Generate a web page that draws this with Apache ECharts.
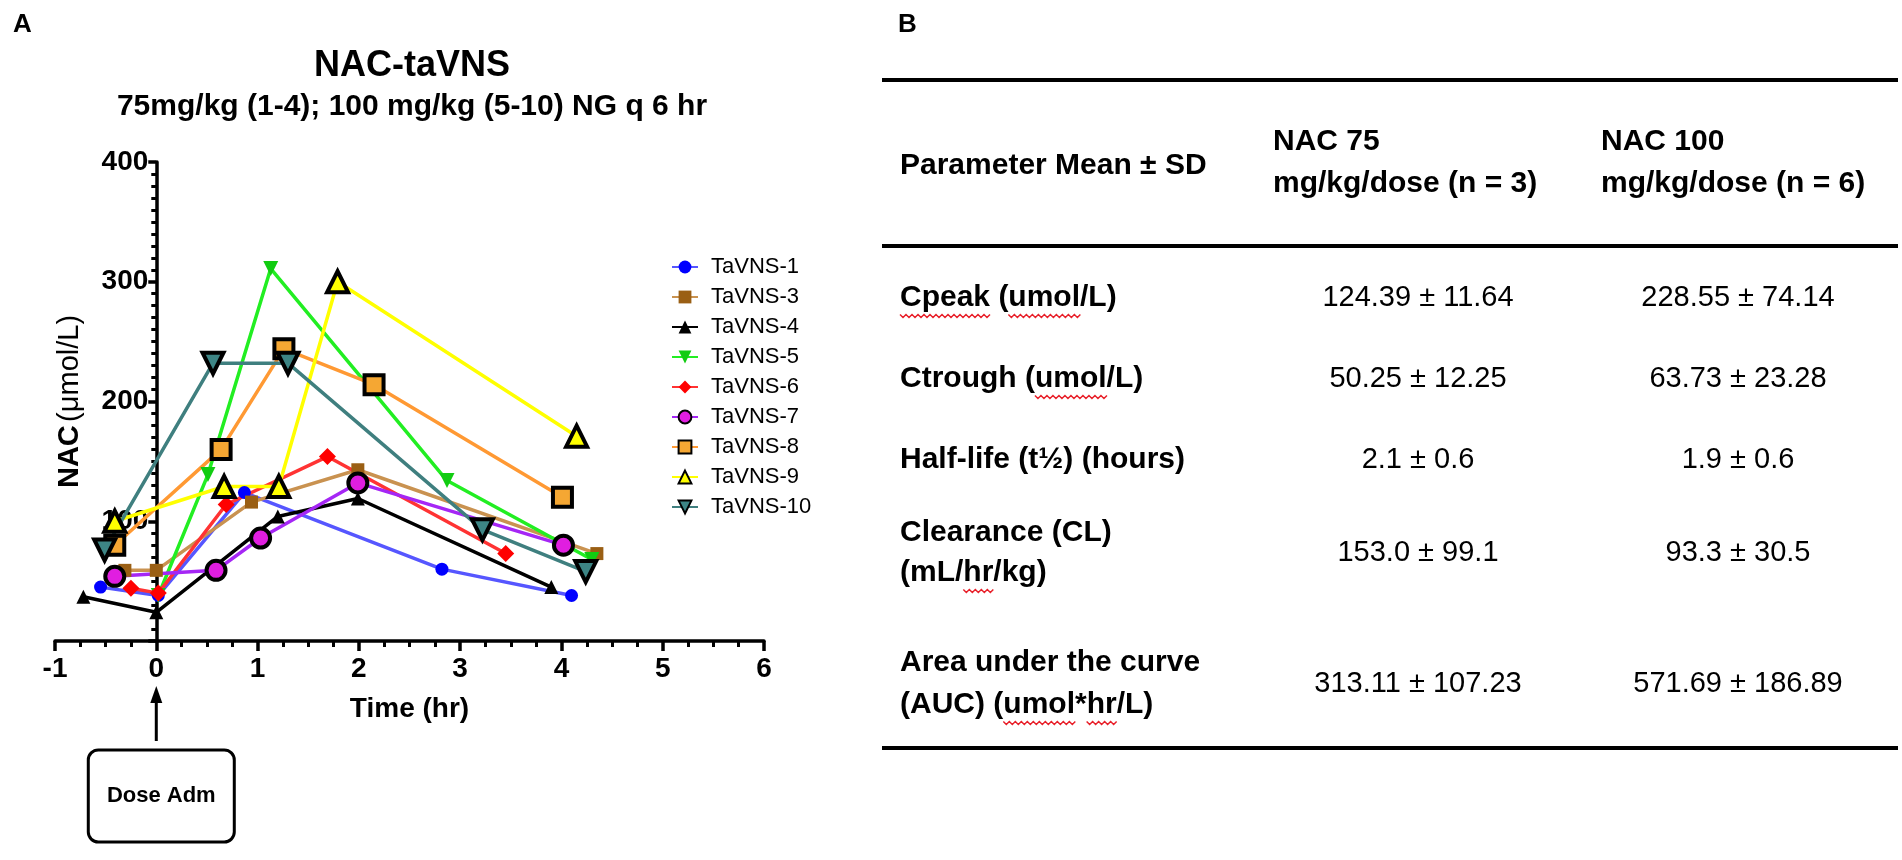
<!DOCTYPE html>
<html>
<head>
<meta charset="utf-8">
<title>NAC-taVNS</title>
<script src="https://cdn.jsdelivr.net/npm/echarts@6/dist/echarts.min.js"></script>
<style>
  html, body { margin: 0; padding: 0; background: #fff; }
  #main { width: 1902px; height: 860px; }
</style>
</head>
<body>
<div id="main"></div>
<script>
'use strict';

// panel A: NAC (umol/L) against time from dose (hr), [time, value]
const tavns1 = [[-0.55, 45], [0.02, 38], [0.87, 124], [2.82, 60], [4.1, 38]];
const tavns3 = [[-0.31, 59], [0, 59], [0.94, 116], [1.99, 143], [4.35, 73]];
const tavns4 = [[-0.72, 37], [0, 24], [1.2, 104], [1.99, 119], [3.9, 45]];
const tavns5 = [[0.02, 38], [0.51, 139], [1.13, 311], [2.87, 134], [4.3, 68]];
const tavns6 = [[-0.25, 44], [0.02, 40], [0.69, 114], [1.69, 154], [3.45, 73]];
const tavns7 = [[-0.41, 54], [0.59, 59], [1.03, 86], [1.99, 132], [4.02, 80]];
const tavns8 = [[-0.41, 80], [0.64, 160], [1.26, 244], [2.15, 214], [4.01, 120]];
const tavns9 = [[-0.41, 100], [0.67, 129], [1.21, 129], [1.79, 300], [4.15, 171]];
const tavns10 = [[-0.51, 76], [0.56, 232], [1.3, 232], [3.22, 93], [4.24, 58]];

const xTicks = [-1, 0, 1, 2, 3, 4, 5, 6];
const yTicks = [0, 100, 200, 300, 400];

// panel B: PK parameters
const headerParam = 'Parameter Mean ± SD';
const headerNac75 = ['NAC 75', 'mg/kg/dose (n = 3)'];
const headerNac100 = ['NAC 100', 'mg/kg/dose (n = 6)'];
const paramLabels = [
  ['Cpeak (umol/L)'],
  ['Ctrough (umol/L)'],
  ['Half-life (t½) (hours)'],
  ['Clearance (CL)', '(mL/hr/kg)'],
  ['Area under the curve', '(AUC) (umol*hr/L)']
];
const nac75Values = ['124.39 ± 11.64', '50.25 ± 12.25', '2.1 ± 0.6', '153.0 ± 99.1', '313.11 ± 107.23'];
const nac100Values = ['228.55 ± 74.14', '63.73 ± 23.28', '1.9 ± 0.6', '93.3 ± 30.5', '571.69 ± 186.89'];

const axisFont = 'Liberation Sans, Arial, Helvetica, sans-serif';
const tableFont = '"Liberation Sans", Arial, sans-serif';

function line(name, data, color, symbol, fill, size, border, rotate) {
    return {
        name: name,
        type: 'line',
        data: data,
        symbol: symbol,
        symbolSize: size,
        symbolRotate: rotate || 0,
        lineStyle: { color: color, width: 3.5 },
        itemStyle: {
            color: fill,
            borderColor: border ? '#000' : fill,
            borderWidth: border ? 4 : 0
        },
        emphasis: { disabled: true },
        z: 3
    };
}

const series = [
    line('TaVNS-1', tavns1, '#5656ff', 'circle', '#0000ff', 13),
    line('TaVNS-3', tavns3, '#c99250', 'rect', '#9a5f14', 13),
    line('TaVNS-4', tavns4, '#000000', 'triangle', '#000000', 14),
    line('TaVNS-5', tavns5, '#22ee22', 'triangle', '#11cc11', 15, false, 180),
    line('TaVNS-6', tavns6, '#ff3333', 'diamond', '#ff0000', 17),
    line('TaVNS-7', tavns7, '#a526f5', 'circle', '#e01ee0', 19, true),
    line('TaVNS-8', tavns8, '#ff9933', 'rect', '#f5a733', 19, true),
    line('TaVNS-9', tavns9, '#ffff00', 'triangle', '#ffff00', 21, true),
    line('TaVNS-10', tavns10, '#3f7f7f', 'triangle', '#3d8585', 21, true, 180)
];

const chart = echarts.init(document.getElementById('main'), null, { renderer: 'canvas' });

chart.setOption({
    backgroundColor: '#fff',
    animation: false,
    title: [{
        text: 'NAC-taVNS',
        left: 412,
        top: 48,
        padding: 0,
        textAlign: 'center',
        textStyle: { fontFamily: axisFont, fontSize: 36, fontWeight: 'bold', color: '#000' }
    }, {
        text: '75mg/kg (1-4); 100 mg/kg (5-10) NG q 6 hr',
        left: 412,
        top: 92,
        padding: 0,
        textAlign: 'center',
        textStyle: { fontFamily: axisFont, fontSize: 30, fontWeight: 'bold', color: '#000' }
    }],
    legend: {
        orient: 'vertical',
        left: 666,
        top: 251,
        itemWidth: 26,
        itemHeight: 16,
        itemGap: 8,
        data: series.map(s => s.name),
        textStyle: { fontFamily: axisFont, fontSize: 22, color: '#000', lineHeight: 22, padding: [0, 0, 0, 8] }
    },
    grid: { left: 55, right: 1138, top: 162, bottom: 219, containLabel: false, outerBoundsMode: 'none' },
    xAxis: {
        type: 'value',
        min: xTicks[0],
        max: xTicks[xTicks.length - 1],
        interval: 1,
        name: 'Time (hr)',
        nameLocation: 'middle',
        nameGap: 54,
        nameTextStyle: { fontFamily: axisFont, fontSize: 28, fontWeight: 'bold', color: '#000' },
        splitLine: { show: false },
        axisLine: { onZero: true, lineStyle: { color: '#000', width: 3.5 } },
        axisTick: { inside: false, length: 10, lineStyle: { color: '#000', width: 3.5 } },
        minorTick: { show: true, splitNumber: 4, length: 6, lineStyle: { color: '#000', width: 3 } },
        axisLabel: { margin: 14, fontFamily: axisFont, fontSize: 28, fontWeight: 'bold', color: '#000' }
    },
    yAxis: {
        type: 'value',
        min: yTicks[0],
        max: yTicks[yTicks.length - 1],
        interval: 100,
        name: '{b|NAC} {r|(μmol/L)}',
        nameLocation: 'middle',
        nameGap: 72,
        nameTextStyle: {
            fontFamily: axisFont,
            color: '#000',
            rich: {
                b: { fontFamily: axisFont, fontSize: 29, fontWeight: 'bold', color: '#000' },
                r: { fontFamily: axisFont, fontSize: 29, color: '#000' }
            }
        },
        splitLine: { show: false },
        axisLine: { onZero: false, lineStyle: { color: '#000', width: 3.5 } },
        axisTick: { inside: false, length: 8, lineStyle: { color: '#000', width: 3.5 } },
        minorTick: { show: true, splitNumber: 10, length: 5, lineStyle: { color: '#000', width: 3 } },
        axisLabel: {
            margin: 8,
            fontFamily: axisFont, fontSize: 28, fontWeight: 'bold', color: '#000',
            formatter: v => (v === 0 ? '' : String(v))
        }
    },
    series: series
});

// the y axis sits at time 0 (dose), labels and name travel with it
const x0 = chart.convertToPixel({ xAxisIndex: 0 }, 0);
const xStart = chart.convertToPixel({ xAxisIndex: 0 }, xTicks[0]);
const yBase = chart.convertToPixel({ yAxisIndex: 0 }, 0);
chart.setOption({ yAxis: { offset: -(x0 - xStart) } });

// measuring for the spell-check squiggles in the table
const ctx = document.createElement('canvas').getContext('2d');
function textWidth(str, weight, size) {
    ctx.font = weight + ' ' + size + 'px ' + tableFont;
    return ctx.measureText(str).width;
}
function squiggle(x, y, w) {
    const pts = [];
    const step = 3;
    const n = Math.round(w / step);
    for (let i = 0; i <= n; i++) pts.push([x + i * step, y + (i % 2 ? 3 : 0)]);
    return { type: 'polyline', silent: true, shape: { points: pts }, style: { stroke: '#e8202a', lineWidth: 1.5, fill: null } };
}
function squiggleUnder(full, word, x, yMid, size) {
    const idx = full.indexOf(word);
    const sx = x + textWidth(full.slice(0, idx), 'bold', size);
    const w = textWidth(word, 'bold', size);
    return squiggle(sx, yMid + size * 0.55, w);
}

function txt(text, x, y, size, weight, align) {
    return {
        type: 'text', silent: true, x: x, y: y,
        style: {
            text: text, fontFamily: tableFont, fontSize: size, fontWeight: weight,
            fill: '#000', align: align || 'left', verticalAlign: 'middle'
        }
    };
}
function rule(x1, x2, y) {
    return { type: 'line', silent: true, shape: { x1: x1, y1: y, x2: x2, y2: y }, style: { stroke: '#000', lineWidth: 4 } };
}

const graphics = [];

// panel letters
graphics.push({ type: 'text', silent: true, x: 13, y: 12, style: { text: 'A', fontFamily: axisFont, fontSize: 26, fontWeight: 'bold', fill: '#000' } });
graphics.push({ type: 'text', silent: true, x: 898, y: 12, style: { text: 'B', fontFamily: axisFont, fontSize: 26, fontWeight: 'bold', fill: '#000' } });

// dose annotation under time 0
graphics.push({ type: 'line', silent: true, shape: { x1: x0, y1: yBase + 58, x2: x0, y2: yBase + 100 }, style: { stroke: '#000', lineWidth: 3 } });
graphics.push({ type: 'polygon', silent: true, shape: { points: [[x0, yBase + 45], [x0 - 6, yBase + 62], [x0 + 6, yBase + 62]] }, style: { fill: '#000' } });
graphics.push({ type: 'rect', silent: true, shape: { x: x0 - 68, y: yBase + 109, width: 146, height: 92, r: 10 }, style: { fill: '#fff', stroke: '#000', lineWidth: 3 } });
graphics.push({ type: 'text', silent: true, x: x0 + 5, y: yBase + 155, style: { text: 'Dose Adm', fontFamily: axisFont, fontSize: 22, fontWeight: 'bold', fill: '#000', align: 'center', verticalAlign: 'middle' } });

// panel B table
const labelX = 900, col1X = 1273, col2X = 1601, val1X = 1418, val2X = 1738;
const labelSize = 30, valueSize = 29;
graphics.push(rule(882, 1898, 80));
graphics.push(rule(882, 1898, 246));
graphics.push(rule(882, 1898, 748));
graphics.push(txt(headerParam, labelX, 166, labelSize, 'bold'));
graphics.push(txt(headerNac75[0], col1X, 142, labelSize, 'bold'));
graphics.push(txt(headerNac75[1], col1X, 184, labelSize, 'bold'));
graphics.push(txt(headerNac100[0], col2X, 142, labelSize, 'bold'));
graphics.push(txt(headerNac100[1], col2X, 184, labelSize, 'bold'));

const rowY = [[298], [379], [460], [533, 573], [663, 705]];
paramLabels.forEach((lines, i) => {
    lines.forEach((s, j) => graphics.push(txt(s, labelX, rowY[i][j], labelSize, 'bold')));
    const vy = rowY[i].reduce((a, b) => a + b, 0) / rowY[i].length;
    graphics.push(txt(nac75Values[i], val1X, vy, valueSize, 'normal', 'center'));
    graphics.push(txt(nac100Values[i], val2X, vy, valueSize, 'normal', 'center'));
});

graphics.push(squiggleUnder(paramLabels[0][0], 'Cpeak', labelX, rowY[0][0], labelSize));
graphics.push(squiggleUnder(paramLabels[0][0], 'umol', labelX, rowY[0][0], labelSize));
graphics.push(squiggleUnder(paramLabels[1][0], 'umol', labelX, rowY[1][0], labelSize));
graphics.push(squiggleUnder(paramLabels[3][1], 'hr', labelX, rowY[3][1], labelSize));
graphics.push(squiggleUnder(paramLabels[4][1], 'umol', labelX, rowY[4][1], labelSize));
graphics.push(squiggleUnder(paramLabels[4][1], 'hr', labelX, rowY[4][1], labelSize));

chart.setOption({ graphic: graphics });
</script>
</body>
</html>
